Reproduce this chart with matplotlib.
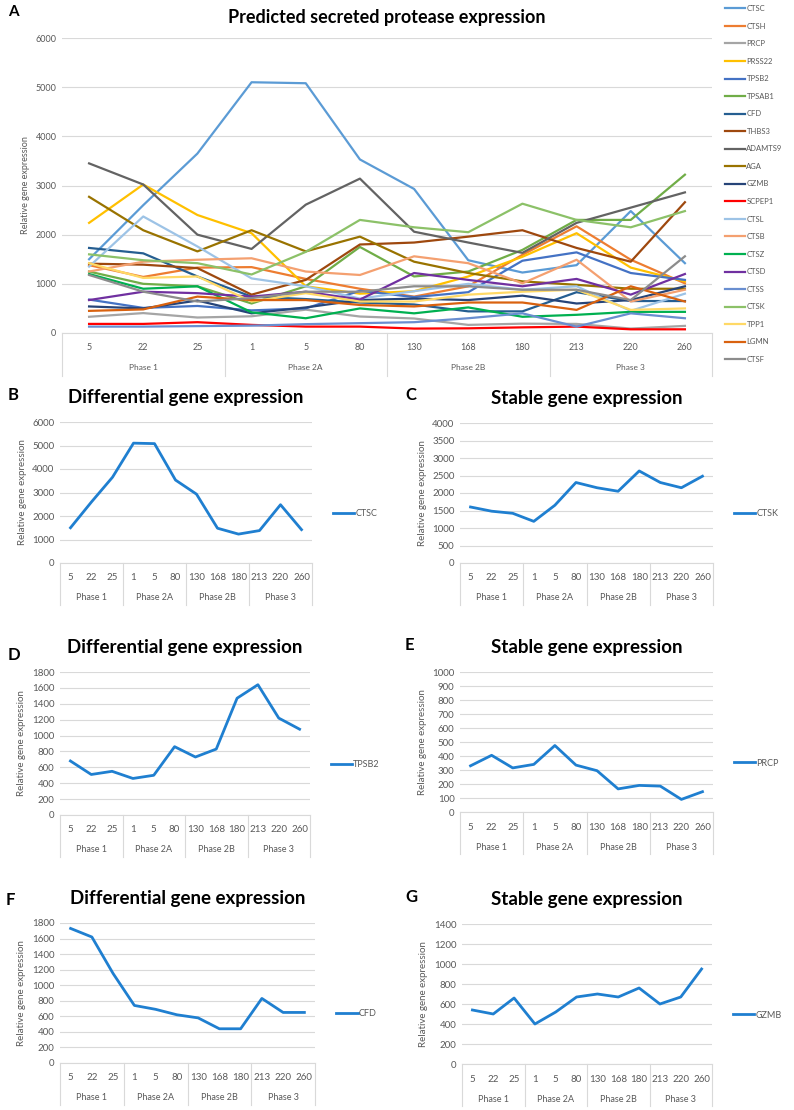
import matplotlib
matplotlib.use("Agg")
import matplotlib.pyplot as plt

plt.rcParams['font.family'] = ['Lato', 'DejaVu Sans']

# categories (days) and phases
days = ['5', '22', '25', '1', '5', '80', '130', '168', '180', '213', '220', '260']
phases = ['Phase 1', 'Phase 2A', 'Phase 2B', 'Phase 3']

# panel A series
CTSC = [1500, 2600, 3650, 5100, 5080, 3530, 2930, 1480, 1230, 1380, 2480, 1420]
CTSH = [1380, 1140, 1330, 1340, 1100, 900, 740, 950, 1590, 2170, 1490, 1010]
PRCP = [330, 405, 315, 340, 475, 335, 295, 165, 190, 185, 90, 145]
PRSS22 = [2240, 3020, 2400, 2030, 950, 800, 850, 1150, 1550, 2030, 1330, 1050]
TPSB2 = [680, 510, 550, 460, 500, 860, 730, 830, 1470, 1640, 1220, 1080]
TPSAB1 = [1250, 1000, 950, 600, 950, 1750, 1150, 1250, 1690, 2300, 2300, 3220]
CFD = [1730, 1620, 1150, 740, 690, 620, 580, 440, 440, 830, 650, 650]
THBS3 = [1410, 1390, 1320, 780, 1080, 1800, 1840, 1960, 2090, 1730, 1450, 2660]
ADAMTS9 = [3450, 3020, 2000, 1710, 2610, 3140, 2060, 1840, 1630, 2240, 2550, 2860]
AGA = [2770, 2090, 1660, 2090, 1660, 1960, 1450, 1220, 1050, 980, 900, 900]
GZMB = [540, 500, 660, 400, 520, 670, 700, 670, 760, 600, 670, 950]
SCPEP1 = [185, 185, 220, 165, 130, 130, 90, 95, 115, 130, 75, 75]
CTSL = [1350, 2370, 1760, 1110, 950, 700, 850, 1000, 880, 950, 450, 800]
CTSB = [1250, 1450, 1490, 1520, 1250, 1180, 1560, 1420, 1010, 1490, 640, 880]
CTSZ = [1200, 900, 950, 420, 300, 500, 400, 520, 330, 370, 430, 430]
CTSD = [670, 840, 810, 740, 840, 680, 1220, 1080, 950, 1100, 780, 1200]
CTSS = [130, 130, 140, 150, 180, 200, 220, 300, 400, 130, 400, 300]
CTSK = [1600, 1480, 1420, 1190, 1650, 2300, 2150, 2050, 2630, 2300, 2150, 2480]
TPP1 = [1420, 1120, 1150, 640, 810, 640, 640, 780, 840, 880, 470, 500]
LGMN = [450, 480, 740, 670, 670, 570, 540, 620, 620, 470, 950, 640]
CTSF = [1180, 840, 640, 710, 840, 840, 950, 950, 880, 880, 670, 1560]

genes = ['CTSC', 'CTSH', 'PRCP', 'PRSS22', 'TPSB2', 'TPSAB1', 'CFD', 'THBS3',
         'ADAMTS9', 'AGA', 'GZMB', 'SCPEP1', 'CTSL', 'CTSB', 'CTSZ', 'CTSD',
         'CTSS', 'CTSK', 'TPP1', 'LGMN', 'CTSF']
values = [CTSC, CTSH, PRCP, PRSS22, TPSB2, TPSAB1, CFD, THBS3, ADAMTS9, AGA,
          GZMB, SCPEP1, CTSL, CTSB, CTSZ, CTSD, CTSS, CTSK, TPP1, LGMN, CTSF]
colors = ['#5B9BD5', '#ED7D31', '#A5A5A5', '#FFC000', '#4472C4', '#70AD47',
          '#255E91', '#9E480E', '#636363', '#997300', '#264478', '#FF0000',
          '#9DC3E6', '#F4A070', '#00B050', '#7030A0', '#698ED0', '#8CC168',
          '#FFD966', '#D9620F', '#8C8C8C']

W, H = 794, 1110
fig = plt.figure(figsize=(W / 100, H / 100), dpi=100)
GRID = '#D9D9D9'
TXT = '#595959'
LINE = '#1F7FD0'


def make_axes(x0, x1, y0, y1):
    return fig.add_axes([x0 / W, 1 - y1 / H, (x1 - x0) / W, (y1 - y0) / H])


def style_axes(ax, ymax, step, tick_fs, tick_off, phase_off, sep_len):
    ax.set_xlim(-0.5, 11.5)
    ax.set_ylim(0, ymax)
    ax.set_yticks(range(0, ymax + 1, step))
    ax.grid(axis='y', color=GRID, lw=0.8)
    ax.set_axisbelow(True)
    for s in ['top', 'right', 'left']:
        ax.spines[s].set_visible(False)
    ax.spines['bottom'].set_color(GRID)
    ax.tick_params(axis='y', length=0, labelsize=tick_fs, labelcolor=TXT, pad=4)
    ax.set_xticks([])
    ah = ax.get_position().height * H
    tr = ax.get_xaxis_transform()
    for i, d in enumerate(days):
        ax.text(i, -tick_off / ah, d, transform=tr, ha='center', va='center',
                fontsize=tick_fs, color=TXT)
    for j, p in enumerate(phases):
        ax.text(3 * j + 1, -phase_off / ah, p, transform=tr, ha='center',
                va='center', fontsize=tick_fs - 0.5, color=TXT)
    for b in [-0.5, 2.5, 5.5, 8.5, 11.5]:
        ax.plot([b, b], [0, -sep_len / ah], transform=tr, color=GRID,
                lw=0.8, clip_on=False)
    ax.set_ylabel('Relative gene expression', fontsize=tick_fs, color=TXT,
                  labelpad=4)


# Panel A
axA = make_axes(62, 712, 38, 333)
for g, v, c in zip(genes, values, colors):
    axA.plot(range(12), v, color=c, lw=1.6, label=g)
style_axes(axA, 6000, 1000, 6.5, 14, 34, 43)
axA.set_title('Predicted secreted protease expression', fontsize=13,
              fontweight='bold', pad=11)
fig.legend(loc='upper left', bbox_to_anchor=(722 / W, 1 - 2 / H),
           frameon=False, fontsize=5.5, handlelength=2.6, handletextpad=0.2,
           labelspacing=1.38, borderaxespad=0, labelcolor=TXT)
fig.text(8 / W, 1 - 12 / H, 'A', fontsize=11, fontweight='bold', va='center')

# Panels B-G
subpanels = [
    ('B', 'Differential gene expression', CTSC, 'CTSC', 6000, 1000,
     (60, 312, 422, 563), (8, 395)),
    ('C', 'Stable gene expression', CTSK, 'CTSK', 4000, 500,
     (460, 713, 423, 563), (405, 395)),
    ('D', 'Differential gene expression', TPSB2, 'TPSB2', 1800, 200,
     (60, 310, 672, 815), (8, 655)),
    ('E', 'Stable gene expression', PRCP, 'PRCP', 1000, 100,
     (460, 713, 672, 812), (405, 645)),
    ('F', 'Differential gene expression', CFD, 'CFD', 1800, 200,
     (60, 315, 923, 1063), (6, 900)),
    ('G', 'Stable gene expression', GZMB, 'GZMB', 1400, 200,
     (462, 712, 924, 1064), (405, 897)),
]

for letter, title, v, g, ymax, step, box, lpos in subpanels:
    ax = make_axes(*box)
    ax.plot(range(12), v, color=LINE, lw=2.0, label=g)
    style_axes(ax, ymax, step, 7, 15, 35, 42)
    ax.set_title(title, fontsize=13.5, fontweight='bold', pad=14)
    ax.legend(loc='center left', bbox_to_anchor=(1.05, 0.35), frameon=False,
              fontsize=6.5, handlelength=2.4, handletextpad=0.1,
              labelcolor=TXT)
    fig.text(lpos[0] / W, 1 - lpos[1] / H, letter, fontsize=12,
             fontweight='bold', va='center')

fig.savefig('out.png', dpi=100)
